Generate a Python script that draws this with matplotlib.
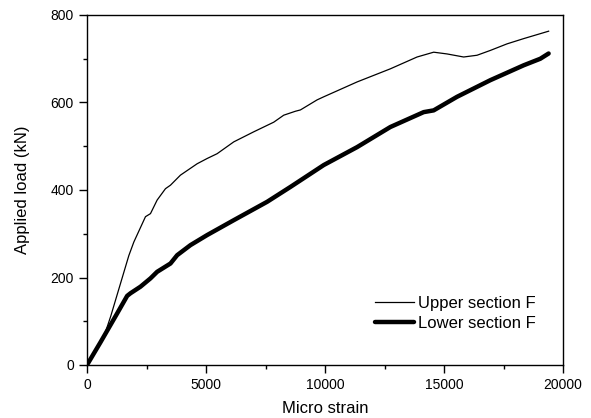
import matplotlib
matplotlib.use("Agg")
import matplotlib.pyplot as plt
from matplotlib.ticker import MultipleLocator

plt.rcParams["font.family"] = ["Liberation Sans", "DejaVu Sans"]

# values
upper_strain = [0, 567, 720, 1000, 1757, 1967, 2457, 2667, 2947, 3297, 3507, 3927,
                4628, 5048, 5468, 6166, 7006, 7846, 8266, 8756, 8967, 9668, 9946,
                11348, 12747, 13868, 14566, 15127, 15826, 16388, 16946, 17647,
                18346, 19396]
upper_load = [0, 52, 66, 112, 250, 281, 339, 346, 377, 403, 411, 434,
              460, 472, 483, 510, 533, 555, 571, 580, 583, 606, 613,
              647, 677, 704, 715, 711, 704, 708, 719, 734,
              746, 763]

lower_strain = [0, 567, 1268, 1688, 1827, 2247, 2667, 2947, 3507, 3788, 4347,
                5048, 6166, 7568, 8547, 8967, 9946, 11348, 12747, 14146, 14566,
                15547, 16946, 18346, 19046, 19396]
lower_load = [0, 52, 118, 158, 164, 179, 198, 213, 232, 251, 274,
              297, 331, 373, 407, 422, 457, 498, 544, 578, 582,
              613, 651, 685, 700, 712]

fig = plt.figure(figsize=(5.91, 4.18), dpi=100)
ax = fig.add_axes([87 / 591, 1 - 365 / 418, 476 / 591, 350 / 418])

ax.plot(upper_strain, upper_load, color="black", lw=0.9, label="Upper section F")
ax.plot(lower_strain, lower_load, color="black", lw=3.2, label="Lower section F",
        solid_capstyle="round")

ax.set_xlim(0, 20000)
ax.set_ylim(0, 800)
ax.xaxis.set_major_locator(MultipleLocator(5000))
ax.xaxis.set_minor_locator(MultipleLocator(2500))
ax.yaxis.set_major_locator(MultipleLocator(200))
ax.yaxis.set_minor_locator(MultipleLocator(100))
ax.tick_params(which="both", direction="out", top=False, right=False,
               labelsize=10, width=1)
ax.tick_params(which="major", length=6)
ax.tick_params(which="minor", length=3)
for s in ax.spines.values():
    s.set_linewidth(1.0)

ax.set_xlabel("Micro strain", fontsize=12, labelpad=6)
ax.set_ylabel("Applied load (kN)", fontsize=12, labelpad=15)

ax.legend(loc="lower right", frameon=False, fontsize=12, handlelength=2.35,
          handletextpad=0.25, labelspacing=0.33, bbox_to_anchor=(0.975, 0.054))

fig.savefig("out.png", dpi=100)
